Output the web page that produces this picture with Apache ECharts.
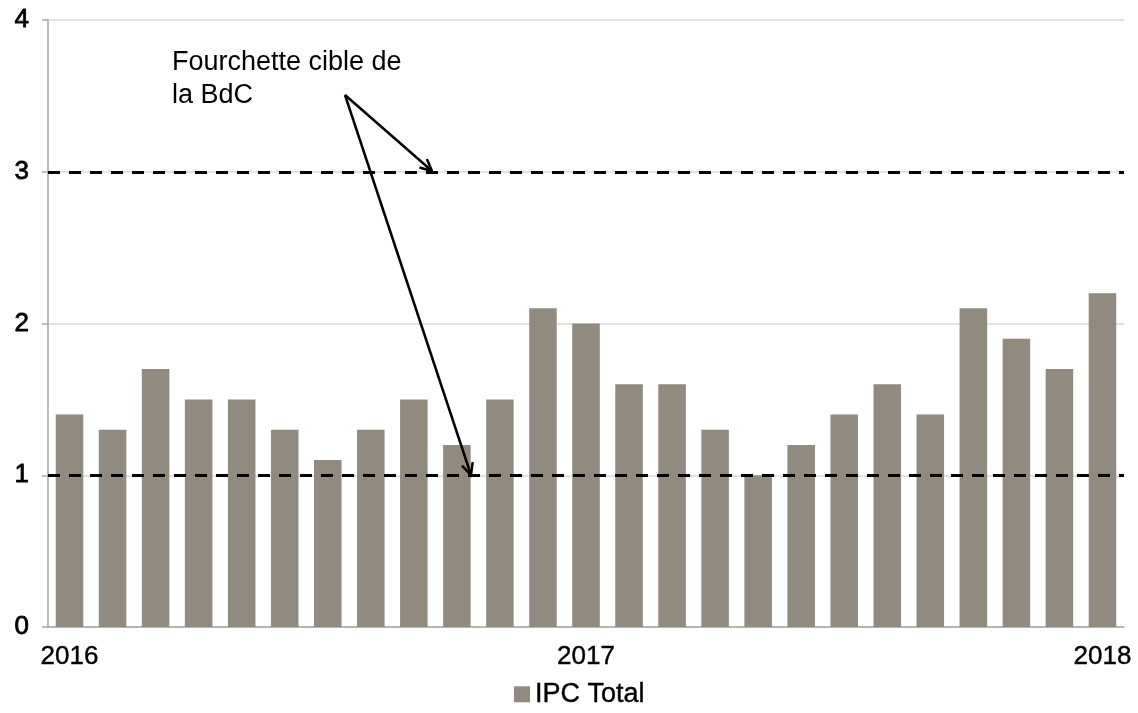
<!DOCTYPE html>
<html>
<head>
<meta charset="utf-8">
<script src="https://cdn.jsdelivr.net/npm/echarts@6/dist/echarts.min.js"></script>
<style>
  html, body { margin: 0; padding: 0; background: #fff; }
  #main { width: 1138px; height: 713px; }
</style>
</head>
<body>
<div id="main"></div>
<script>
// mois de janv. 2016 a janv. 2018
var months = ['2016-01','2016-02','2016-03','2016-04','2016-05','2016-06','2016-07','2016-08','2016-09','2016-10','2016-11','2016-12',
              '2017-01','2017-02','2017-03','2017-04','2017-05','2017-06','2017-07','2017-08','2017-09','2017-10','2017-11','2017-12',
              '2018-01'];
var ipcTotal = [1.4, 1.3, 1.7, 1.5, 1.5, 1.3, 1.1, 1.3, 1.5, 1.2, 1.5, 2.1,
                2.0, 1.6, 1.6, 1.3, 1.0, 1.2, 1.4, 1.6, 1.4, 2.1, 1.9, 1.7,
                2.2];
var cibleBas = 1, cibleHaut = 3;   // fourchette cible
var noteLines = ['Fourchette cible de', 'la BdC'];

var font = 'Liberation Sans, Arial, sans-serif';

// fleche (ligne + pointe ouverte)
function arrow(x1, y1, x2, y2){
    var a = Math.atan2(y2 - y1, x2 - x1), L = 13, w = 0.45;
    return [
        { type: 'line', z: 100, shape: { x1: x1, y1: y1, x2: x2, y2: y2 }, style: { stroke: '#000', lineWidth: 2.5 } },
        { type: 'polyline', z: 100, shape: { points: [
            [x2 - L * Math.cos(a - w), y2 - L * Math.sin(a - w)],
            [x2, y2],
            [x2 - L * Math.cos(a + w), y2 - L * Math.sin(a + w)]
        ] }, style: { stroke: '#000', lineWidth: 2.5, fill: null } }
    ];
}

var chart = echarts.init(document.getElementById('main'));
var option = {
    animation: false,
    textStyle: { fontFamily: font },
    grid: { left: 48, right: 14, top: 20, bottom: 86 },
    legend: {
        bottom: 0,
        left: 509,
        itemWidth: 16, itemHeight: 16, itemGap: 6,
        icon: 'rect',
        textStyle: { fontSize: 27, color: '#000', fontFamily: font, textBorderColor: '#000', textBorderWidth: 0.4 },
        data: ['IPC Total']
    },
    xAxis: {
        type: 'category',
        data: months,
        boundaryGap: true,
        axisLine: { lineStyle: { color: '#a6a6a6', width: 1.5 } },
        axisTick: {
            length: 8,
            interval: function(i){ return i % 12 === 0; },
            lineStyle: { color: '#a6a6a6', width: 1.5 }
        },
        axisLabel: {
            interval: function(i){ return i % 12 === 0; },
            formatter: function(v){ return v.slice(0, 4); },
            fontSize: 26, color: '#000', margin: 17,
            textBorderColor: '#000', textBorderWidth: 0.4
        },
        splitLine: { show: false }
    },
    yAxis: {
        type: 'value',
        min: 0, max: 4, interval: 1,
        axisLine: { show: true, lineStyle: { color: '#a6a6a6', width: 1.5 } },
        axisTick: { show: true, length: 6, lineStyle: { color: '#a6a6a6', width: 1.5 } },
        axisLabel: { fontSize: 26, color: '#000', margin: 19, textBorderColor: '#000', textBorderWidth: 0.8 },
        splitLine: { lineStyle: { color: '#d9d9d9', width: 1.5 } }
    },
    series: [{
        name: 'IPC Total',
        type: 'bar',
        data: ipcTotal,
        barCategoryGap: '36%',
        itemStyle: { color: '#918a7f' },
        markLine: {
            silent: true,
            symbol: 'none',
            label: { show: false },
            lineStyle: { color: '#000', type: [12, 9], width: 3 },
            data: [{ yAxis: cibleBas }, { yAxis: cibleHaut }]
        }
    }],
    graphic: [
        { type: 'text', z: 100, left: 172, top: 46,
          style: { text: noteLines.join('\n'), font: '27px ' + font, fill: '#000', lineHeight: 33 } }
    ].concat(arrow(345, 95, 432, 171), arrow(345, 95, 471, 475))
};
chart.setOption(option);
</script>
</body>
</html>
